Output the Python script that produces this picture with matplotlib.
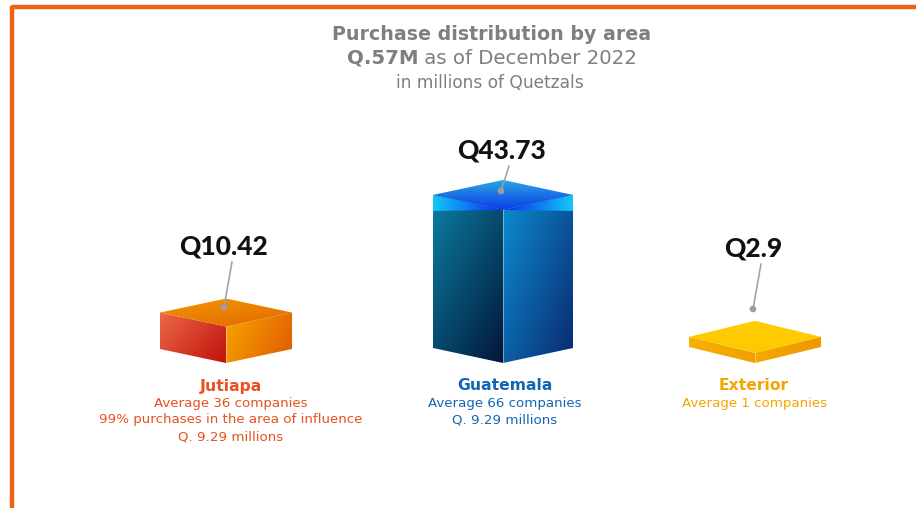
import numpy as np
import matplotlib

matplotlib.use('Agg')

import matplotlib.pyplot as plt
from matplotlib.patches import Polygon, Circle
from matplotlib.colors import LinearSegmentedColormap

# data
areas = ['Jutiapa', 'Guatemala', 'Exterior']
amounts = [10.42, 43.73, 2.9]
companies = [36, 66, 1]
details = [['99% purchases in the area of influence', 'Q. 9.29 millions'],
           ['Q. 9.29 millions'],
           []]
title = 'Purchase distribution by area'
total_label = 'Q.57M'
subtitle = ' as of December 2022'
unit_note = 'in millions of Quetzals'

# layout (pixel space, y down)
W, H = 916, 508
centers = [226, 503, 755]
caption_x = [231, 505, 754]
half_w = [66, 70, 66]
depth = [14, 15, 16]
base_y = 363
px_per_q = 3.5
label_y = [247, 151, 249]
dot_y = [307, 191, 309]
text_colors = ['#E8521E', '#1466B4', '#F5A400']
face_colors = [
    # left face, right face, top face : (start, end, angle)
    [('#EC6A48', '#C0100C', 35), ('#F7A600', '#E05A00', 20), ('#F39600', '#E26800', 60)],
    [('#0B7FA2', '#03173A', 50), ('#0D8ED2', '#0A2A70', 40), ('#2AA6E2', '#0A3CE8', 90)],
    [('#F7B000', '#F2A000', 0), ('#F5A800', '#EE9800', 0), ('#FFCD00', '#FFC800', 90)],
]
grey = '#7F7F7F'

plt.rcParams['font.family'] = ['DejaVu Sans']

fig = plt.figure(figsize=(W / 100, H / 100), dpi=100)
ax = fig.add_axes([0, 0, 1, 1])
ax.axis('off')
ax.set_xlim(0, W)
ax.set_ylim(H, 0)
renderer = fig.canvas.get_renderer()


def grad_poly(ax, pts, c0, c1, angle, z=2):
    poly = Polygon(pts, closed=True, fc='none', ec='none', zorder=z)
    ax.add_patch(poly)
    xs = [p[0] for p in pts]
    ys = [p[1] for p in pts]
    gx, gy = np.meshgrid(np.linspace(0, 1, 80), np.linspace(0, 1, 80))
    a = np.deg2rad(angle)
    t = gx * np.cos(a) + gy * np.sin(a)
    t = (t - t.min()) / (t.max() - t.min() + 1e-9)
    cmap = LinearSegmentedColormap.from_list('g', [c0, c1])
    im = ax.imshow(t, cmap=cmap, extent=(min(xs), max(xs), max(ys), min(ys)),
                   origin='upper', aspect='auto', interpolation='bilinear', zorder=z)
    im.set_clip_path(poly)


def width_scale(t, target):
    # font size factor that makes text t about target px wide
    return target / t.get_window_extent(renderer).width


for i, area in enumerate(areas):
    cx, w, d = centers[i], half_w[i], depth[i]
    h = amounts[i] * px_per_q
    F, L, R = (cx, base_y), (cx - w, base_y - d), (cx + w, base_y - d)
    Ft, Lt, Rt = (cx, base_y - h), (cx - w, base_y - d - h), (cx + w, base_y - d - h)
    Bt = (cx, base_y - 2 * d - h)
    (l0, l1, la), (r0, r1, ra), (t0, t1, ta) = face_colors[i]
    grad_poly(ax, [L, F, Ft, Lt], l0, l1, la)
    grad_poly(ax, [F, R, Rt, Ft], r0, r1, ra)
    if area == 'Guatemala':
        # bright lid rim
        grad_poly(ax, [Lt, Ft, (Lt[0], Ft[1] + 1)], '#12C8F5', '#0A2AF0', 0, z=3)
        grad_poly(ax, [Ft, Rt, (Rt[0], Ft[1] + 1)], '#0A2AF0', '#12C8F5', 0, z=3)
    grad_poly(ax, [Lt, Ft, Rt, Bt], t0, t1, ta, z=4)
    ax.plot([Ft[0], Ft[0]], [Ft[1], F[1]], color='white', lw=0.6, alpha=0.5, zorder=5)

    # leader line and value label
    ax.plot([cx + 6, cx - 2], [label_y[i] + 15, dot_y[i]], color='#9E9E9E', lw=1.1, zorder=6)
    ax.add_patch(Circle((cx - 2, dot_y[i]), 2.6, color='#9E9E9E', zorder=7))
    ax.text(cx - 2, label_y[i], 'Q%s' % amounts[i], ha='center', va='center',
            fontsize=19, fontweight='black', color='#111111', zorder=8,
            family=['Lato', 'DejaVu Sans'])

# area captions, sized to the widths seen in the reference
name_texts, line_texts = [], []
for i, area in enumerate(areas):
    name_texts.append(ax.text(caption_x[i], 386, area, ha='center', va='center',
                              fontsize=10, fontweight='bold', color=text_colors[i]))
    lines = ['Average %d companies' % companies[i]] + details[i]
    for j, line in enumerate(lines):
        line_texts.append(ax.text(caption_x[i], 403 + j * 16.8, line, ha='center',
                                  va='center', fontsize=10, color=text_colors[i]))
k_name = width_scale(name_texts[0], 62)
k_line = width_scale(line_texts[1], 262)
for t in name_texts:
    t.set_fontsize(10 * k_name)
for t in line_texts:
    t.set_fontsize(10 * k_line)

# titles
tt = ax.text(492, 34, title, ha='center', va='center', fontsize=10,
             fontweight='bold', color=grey)
tt.set_fontsize(10 * width_scale(tt, 318))
t1 = ax.text(0, 58, total_label, ha='left', va='center', fontsize=10,
             fontweight='bold', color=grey)
t2 = ax.text(0, 58, subtitle, ha='left', va='center', fontsize=10, color=grey)
w1 = t1.get_window_extent(renderer).width
w2 = t2.get_window_extent(renderer).width
k = 290 / (w1 + w2)
t1.set_fontsize(10 * k)
t2.set_fontsize(10 * k)
x0 = 492 - (w1 + w2) * k / 2
t1.set_x(x0)
t2.set_x(x0 + w1 * k)
tu = ax.text(490, 83, unit_note, ha='center', va='center', fontsize=10, color=grey)
tu.set_fontsize(10 * width_scale(tu, 188))

# orange frame (top and left)
ax.plot([11, W], [7, 7], color='#EE6312', lw=3.2, solid_capstyle='butt', zorder=10)
ax.plot([11.5, 11.5], [5.5, H], color='#EE6312', lw=3.2, solid_capstyle='butt', zorder=10)

ax.set_xlim(0, W)
ax.set_ylim(H, 0)
fig.savefig('out.png', dpi=100)
